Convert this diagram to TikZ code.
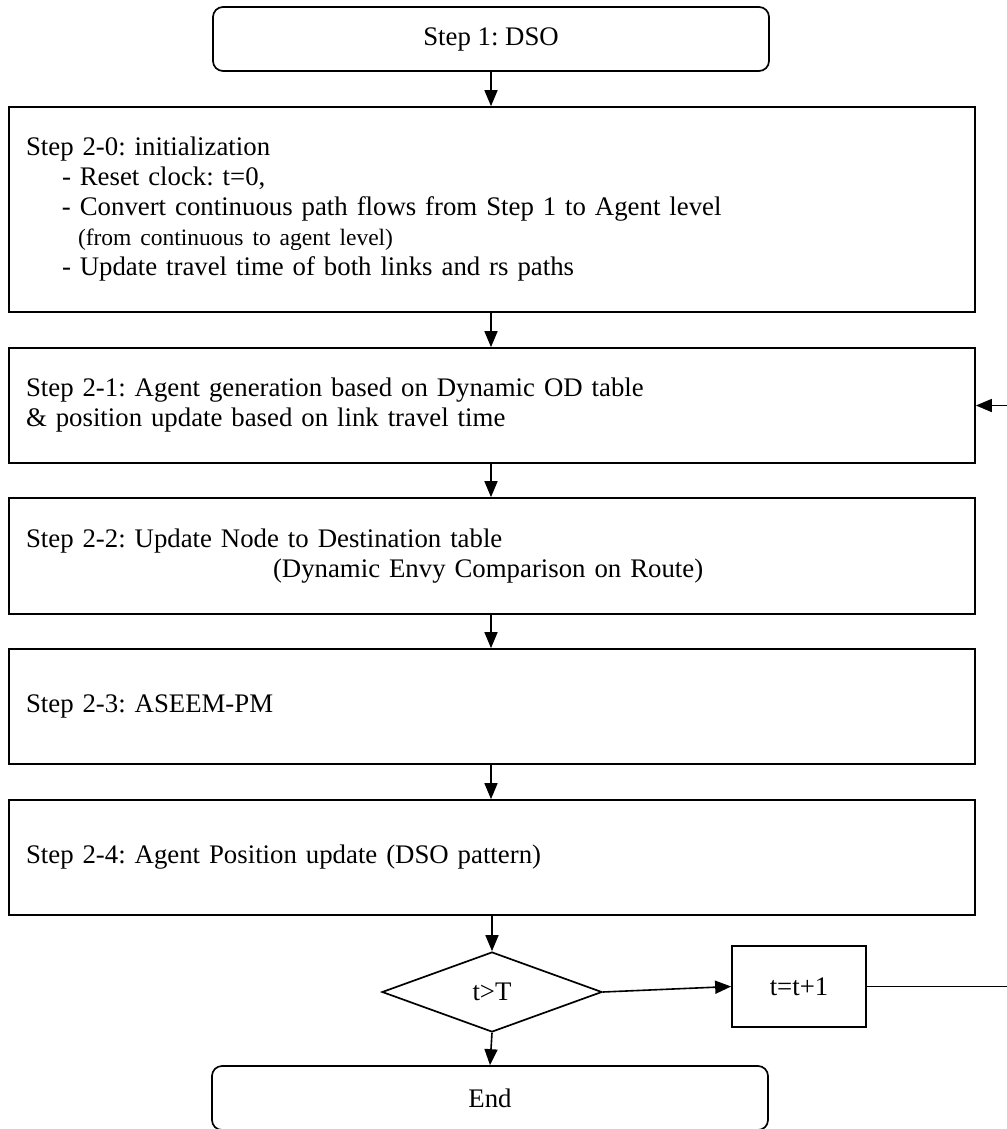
\documentclass[tikz,border=0pt]{standalone}
\usepackage{fontspec}
\setmainfont{Liberation Serif}
\usetikzlibrary{arrows.meta,shapes.geometric}
\newcommand\mainsz{\fontsize{26.8}{30}\selectfont\frenchspacing}
\newcommand\smallsz{\fontsize{23.5}{30}\selectfont}
\begin{document}
\begin{tikzpicture}[x=1pt,y=-1pt,
  base/.style={draw,line width=1.7pt,font=\mainsz,inner sep=0pt},
  rbox/.style={base,rounded corners=10pt,minimum width=556pt,minimum height=64pt},
  stepbox/.style={base,minimum width=966pt,text width=932pt,align=left},
  arr/.style={line width=1.6pt,-{Triangle[length=16pt,width=13pt]}}
]
\useasboundingbox (0,0) rectangle (1006,1129);

\node[rbox] (s1) at (491,39) {Step 1: DSO};

\node[stepbox,minimum height=205pt] (s20) at (492,209.5) {Step 2-0: initialization\\
\hspace*{36pt}- Reset clock: t=0,\\
\hspace*{36pt}- Convert continuous path flows from Step 1 to Agent level\\
\hspace*{52pt}{\smallsz (from continuous to agent level)}\\
\hspace*{36pt}- Update travel time of both links and rs paths};

\node[stepbox,minimum height=115pt] (s21) at (492,405.5) {Step 2-1: Agent generation based on Dynamic OD table\\
\& position update based on link travel time};

\node[stepbox,minimum height=116pt] (s22) at (492,556) {Step 2-2: Update Node to Destination table\\
\hspace*{247pt}(Dynamic Envy Comparison on Route)};

\node[stepbox,minimum height=115pt] (s23) at (492,706.5) {Step 2-3: ASEEM-PM};

\node[stepbox,minimum height=115pt] (s24) at (492,857.5) {Step 2-4: Agent Position update (DSO pattern)};

\node[base,diamond,minimum width=220pt,minimum height=80pt] (dec) at (492,992) {t\textgreater T};

\node[base,minimum width=134pt,minimum height=81pt] (inc) at (799,986.5) {t=t+1};

\node[rbox] (fin) at (490,1098) {End};

\draw[arr] (s1.south) -- (s1.south |- s20.north);
\draw[arr] (s20.south -| s1.south) -- (s1.south |- s21.north);
\draw[arr] (s21.south -| s1.south) -- (s1.south |- s22.north);
\draw[arr] (s22.south -| s1.south) -- (s1.south |- s23.north);
\draw[arr] (s23.south -| s1.south) -- (s1.south |- s24.north);
\draw[arr] (s24.south -| dec.north) -- (dec.north);
\draw[arr] (dec.south) -- (fin.north);
\draw[arr] (dec.east) -- (inc.west);
\coordinate (loopx) at (1020,700);
\draw[arr] (inc.east) -- (inc.east -| loopx) |- (s21.east);
\end{tikzpicture}
\end{document}
